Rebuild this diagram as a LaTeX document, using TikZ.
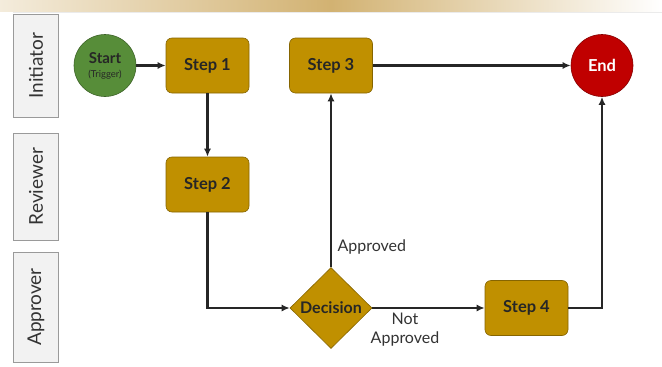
\documentclass[tikz,border=0pt]{standalone}
\usepackage{fontspec}
\setmainfont{Lato}
\usetikzlibrary{shapes.geometric,arrows.meta}
\definecolor{gold}{HTML}{C09000}
\definecolor{startgreen}{HTML}{578D39}
\definecolor{endred}{HTML}{C00000}
\definecolor{band}{HTML}{D2B272}
\definecolor{lanefill}{HTML}{F2F2F2}
\definecolor{laneborder}{HTML}{9A9A9A}
\definecolor{lanetext}{HTML}{333333}
\tikzset{
  stepbox/.style={draw=gold!70!black, line width=0.6pt, fill=gold, rounded corners=6pt,
    minimum width=83pt, minimum height=55pt, font=\fontsize{16.5}{18}\selectfont\bfseries, text=black!85},
  circ/.style={circle, draw=#1!70!black, line width=0.6pt, fill=#1, minimum size=62pt, inner sep=0pt},
  lane/.style={draw=laneborder, line width=0.8pt, fill=lanefill, rotate=90,
    minimum height=45pt, font=\fontsize{19}{21}\selectfont, text=lanetext, inner sep=0pt},
  conn/.style={draw=black!85, line width=2.2pt, -{Latex[length=8pt,width=7pt]}},
  lbl/.style={font=\fontsize{16}{18}\selectfont, text=black!80, align=center}
}
\begin{document}
\begin{tikzpicture}[x=1pt,y=-1pt]
\useasboundingbox (0,0) rectangle (662,367);
\fill[white] (0,0) rectangle (662,367);
\shade[left color=band!25, right color=white, middle color=band] (0,0) rectangle (662,11);
\draw[black!8, line width=0.5pt] (13,12) -- (662,12);
% lanes
\node[lane, minimum width=103pt] (l1) at (36,65.5) {Initiator};
\node[lane, minimum width=107pt] (l2) at (36,186.5) {Reviewer};
\node[lane, minimum width=110pt] (l3) at (36,307) {Approver};
% nodes
\node[circ=startgreen, align=center] (start) at (105,65.5)
  {\fontsize{15}{15}\selectfont\bfseries\color{black!85}Start\\[2pt]{\fontsize{9.5}{10}\selectfont\color{black!85}(Trigger)}};
\node[stepbox] (s1) at (207.5,65.5) {Step 1};
\node[stepbox] (s2) at (207.5,184.5) {Step 2};
\node[stepbox] (s3) at (331,65.5) {Step 3};
\node[stepbox] (s4) at (526.5,308) {Step 4};
\node[diamond, draw=gold!70!black, line width=0.6pt, fill=gold, minimum width=82pt, minimum height=81pt, inner sep=0pt,
  font=\fontsize{16}{18}\selectfont\bfseries, text=black!85] (dec) at (331,308) {Decision};
\node[circ=endred, font=\fontsize{16.5}{18}\selectfont\bfseries, text=white] (end) at (602,65.5) {End};
% connectors
\draw[conn] (start) -- (s1);
\draw[conn] (s1) -- (s2);
\draw[conn] (s2.south) |- (dec.west);
\draw[conn] (dec.north) -- (s3.south);
\draw[conn] (s3) -- (end);
\draw[conn] (dec.east) -- (s4.west);
\draw[conn] (s4.east) -| (end.south);
% labels
\node[lbl, anchor=west] (ap) at (334,247) {Approved};
\node[lbl, align=center] (nap) at (405,329.5) {Not\\[1pt]Approved};
\end{tikzpicture}
\end{document}
